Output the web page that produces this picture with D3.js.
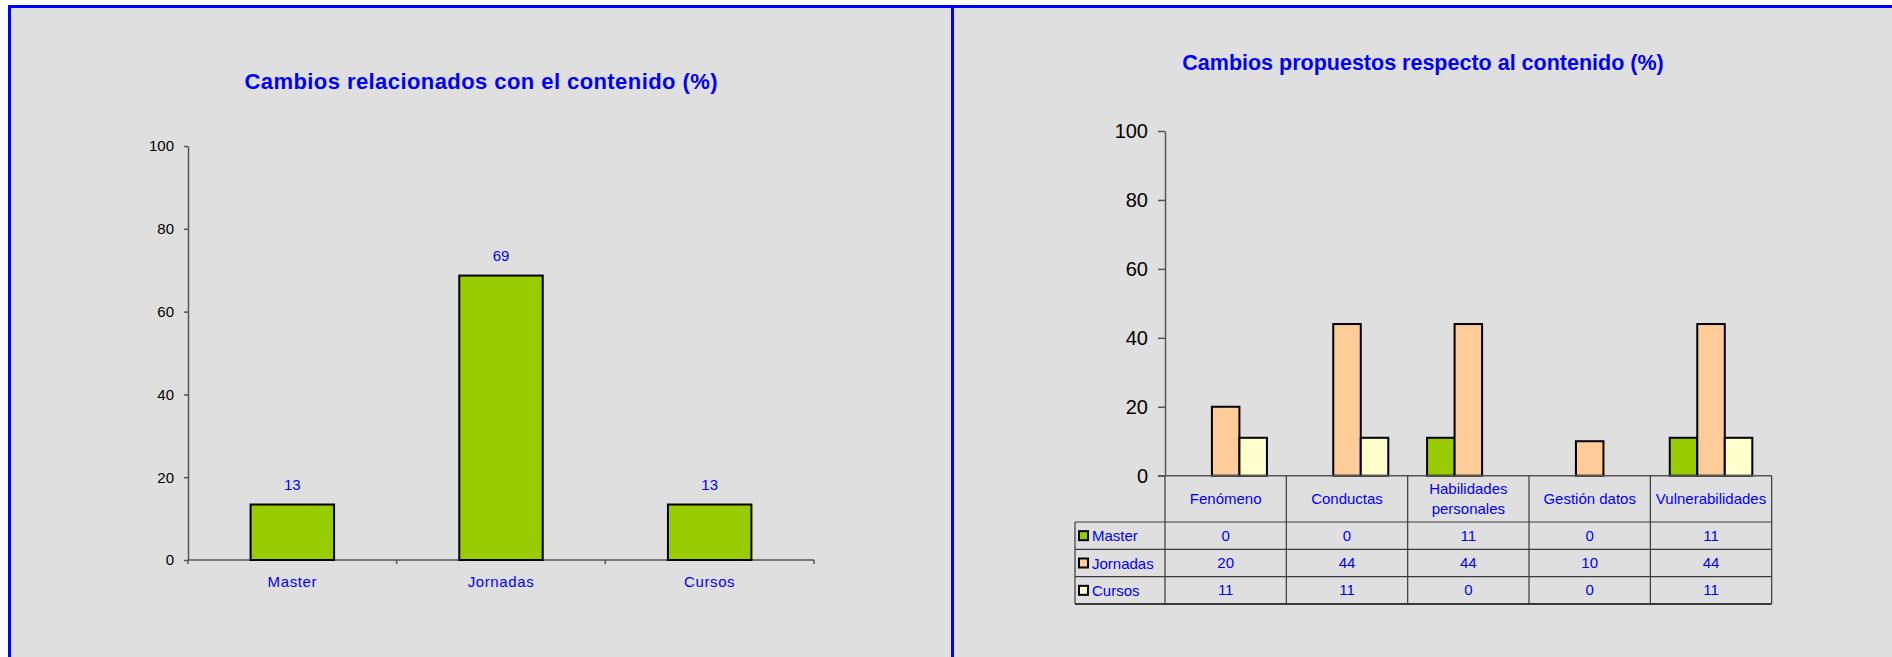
<!DOCTYPE html>
<html><head><meta charset="utf-8">
<script src="https://cdn.jsdelivr.net/npm/d3@7"></script>
<style>
body{margin:0;background:#fff;}
svg{display:block;}
text{font-family:"Liberation Sans",Arial,Helvetica,sans-serif;}
</style>
</head><body>
<svg id="c" width="1892" height="657"></svg>
<script>
// ---------- data ----------
const leftTitle = "Cambios relacionados con el contenido (%)";
const rightTitle = "Cambios propuestos respecto al contenido (%)";
const leftCategories = ["Master", "Jornadas", "Cursos"];
const leftValues = [13.4, 68.7, 13.4];
const yTickValues = [0, 20, 40, 60, 80, 100];
const rightCategories = ["Fenómeno", "Conductas", "Habilidades personales", "Gestión datos", "Vulnerabilidades"];
const seriesNames = ["Master", "Jornadas", "Cursos"];
const masterValues = [0, 0, 11, 0, 11];
const jornadasValues = [20, 44, 44, 10, 44];
const cursosValues = [11, 11, 0, 0, 11];
const seriesColors = ["#99CC00", "#FFCC99", "#FFFFCC"];

const rightSeries = [masterValues, jornadasValues, cursosValues];
const BLUE = "#0000FF";
const fmt = d3.format(".0f");

const svg = d3.select("#c");

// ---------- background & frames ----------
svg.append("rect").attr("x", 8).attr("y", 5).attr("width", 1884).attr("height", 652).attr("fill", "#DFDFDF");
svg.append("rect").attr("x", 8).attr("y", 5).attr("width", 1884).attr("height", 3).attr("fill", BLUE);
svg.append("rect").attr("x", 8).attr("y", 5).attr("width", 3).attr("height", 652).attr("fill", BLUE);
svg.append("rect").attr("x", 951).attr("y", 5).attr("width", 3).attr("height", 652).attr("fill", BLUE);

// ---------- left chart ----------
const L = svg.append("g");
L.append("text").attr("x", 481).attr("y", 89).attr("text-anchor", "middle")
  .attr("font-size", 22).attr("font-weight", "bold").attr("fill", BLUE)
  .attr("textLength", 473).attr("lengthAdjust", "spacing")
  .text(leftTitle);

const xL = d3.scaleBand().domain(leftCategories).range([188, 814]).paddingInner(0.6).paddingOuter(0.3);
const yL = d3.scaleLinear().domain([0, 100]).range([560, 146]);

const yAxisL = L.append("g").attr("transform", "translate(188,0)")
  .call(d3.axisLeft(yL).tickValues(yTickValues).tickSize(4).tickSizeOuter(0).tickPadding(10));
yAxisL.select(".domain").attr("stroke", "#555").attr("stroke-width", 1.5);
yAxisL.selectAll(".tick line").attr("stroke", "#555").attr("stroke-width", 1.5);
yAxisL.selectAll(".tick text").attr("font-size", 15).attr("fill", "#000")
  .attr("font-family", "'Liberation Sans',Arial,sans-serif");

// x axis line and boundary ticks
const xRangeL = xL.range();
L.append("line").attr("x1", xRangeL[0]).attr("x2", xRangeL[1]).attr("y1", yL(0)).attr("y2", yL(0))
  .attr("stroke", "#555").attr("stroke-width", 1.5);
const boundsL = leftCategories.map(c => xL(c) - (xL.step() - xL.bandwidth()) / 2).concat([xRangeL[1]]);
L.selectAll(".xtickL").data(boundsL).join("line")
  .attr("x1", d => d).attr("x2", d => d).attr("y1", yL(0)).attr("y2", yL(0) + 4)
  .attr("stroke", "#555").attr("stroke-width", 1.5);

L.selectAll(".barL").data(leftValues).join("rect")
  .attr("x", (d, i) => xL(leftCategories[i]))
  .attr("y", d => yL(d))
  .attr("width", xL.bandwidth())
  .attr("height", d => yL(0) - yL(d))
  .attr("fill", seriesColors[0]).attr("stroke", "#000").attr("stroke-width", 2);

L.selectAll(".lblL").data(leftValues).join("text")
  .attr("x", (d, i) => xL(leftCategories[i]) + xL.bandwidth() / 2)
  .attr("y", d => yL(d) - 15)
  .attr("text-anchor", "middle").attr("font-size", 15).attr("fill", BLUE)
  .text(d => fmt(d));

L.selectAll(".catL").data(leftCategories).join("text")
  .attr("x", d => xL(d) + xL.bandwidth() / 2)
  .attr("y", 587)
  .attr("text-anchor", "middle").attr("font-size", 15).attr("fill", BLUE)
  .attr("letter-spacing", 0.6)
  .text(d => d);

// ---------- right chart ----------
const R = svg.append("g");
R.append("text").attr("x", 1423).attr("y", 70).attr("text-anchor", "middle")
  .attr("font-size", 21.5).attr("font-weight", "bold").attr("fill", BLUE)
  .text(rightTitle);

const x0 = d3.scaleBand().domain(rightCategories).range([1165, 1771.7]);
const x1 = d3.scaleBand().domain(seriesNames).range([0, x0.bandwidth()]).paddingInner(0).paddingOuter(0.705);
const yR = d3.scaleLinear().domain([0, 100]).range([475.7, 131]);
const rowY = d3.scaleBand().domain(seriesNames).range([522, 604]);
const legendLeft = 1075;

const yAxisR = R.append("g").attr("transform", "translate(1165,0)")
  .call(d3.axisLeft(yR).tickValues(yTickValues).tickSize(7).tickSizeOuter(0).tickPadding(10));
yAxisR.select(".domain").attr("stroke", "#555").attr("stroke-width", 1.5);
yAxisR.selectAll(".tick line").attr("stroke", "#555").attr("stroke-width", 1.5);
yAxisR.selectAll(".tick text").attr("font-size", 20).attr("fill", "#000")
  .attr("font-family", "'Liberation Sans',Arial,sans-serif");

// bars
const barData = [];
rightCategories.forEach((c, i) => {
  seriesNames.forEach((s, j) => {
    const v = rightSeries[j][i];
    if (v > 0) barData.push({ c, s, v, color: seriesColors[j] });
  });
});
R.selectAll(".barR").data(barData).join("rect")
  .attr("x", d => x0(d.c) + x1(d.s))
  .attr("y", d => yR(d.v))
  .attr("width", x1.bandwidth())
  .attr("height", d => yR(0) - yR(d.v))
  .attr("fill", d => d.color).attr("stroke", "#000").attr("stroke-width", 2);

// data table grid
const gridColor = "#3a3a3a";
const tableBottom = rowY.range()[1];
const tableRight = x0.range()[1];
R.append("line").attr("x1", 1158).attr("x2", tableRight).attr("y1", yR(0)).attr("y2", yR(0))
  .attr("stroke", "#555").attr("stroke-width", 1.5);
const hLines = seriesNames.map(s => rowY(s)).concat([tableBottom]);
R.selectAll(".hl").data(hLines).join("line")
  .attr("x1", legendLeft).attr("x2", tableRight).attr("y1", d => d).attr("y2", d => d)
  .attr("stroke", gridColor).attr("stroke-width", (d, i) => i === hLines.length - 1 ? 2 : 1.2);
const vLines = rightCategories.map(c => x0(c)).concat([tableRight]);
R.selectAll(".vl").data(vLines).join("line")
  .attr("x1", d => d).attr("x2", d => d).attr("y1", yR(0)).attr("y2", tableBottom)
  .attr("stroke", gridColor).attr("stroke-width", 1.2);
R.append("line").attr("x1", legendLeft).attr("x2", legendLeft).attr("y1", rowY.range()[0]).attr("y2", tableBottom)
  .attr("stroke", gridColor).attr("stroke-width", 1.2);

// header labels (wrapped when wider than column)
const headerCenterY = (yR(0) + rowY.range()[0]) / 2;
rightCategories.forEach(c => {
  const cx = x0(c) + x0.bandwidth() / 2;
  const t = R.append("text").attr("x", cx).attr("text-anchor", "middle")
    .attr("font-size", 15).attr("fill", BLUE).text(c);
  if (t.node().getComputedTextLength() > x0.bandwidth() - 6 && c.includes(" ")) {
    const words = c.split(" ");
    t.text(null);
    const lh = 20;
    words.forEach((w, k) => {
      t.append("tspan").attr("x", cx)
        .attr("y", headerCenterY + 5 + (k - (words.length - 1) / 2) * lh)
        .text(w);
    });
  } else {
    t.attr("y", headerCenterY + 5);
  }
});

// legend keys + names + values
seriesNames.forEach((s, j) => {
  const cy = rowY(s) + rowY.bandwidth() / 2;
  R.append("rect").attr("x", legendLeft + 4).attr("y", cy - 4.5).attr("width", 9).attr("height", 9)
    .attr("fill", seriesColors[j]).attr("stroke", "#000").attr("stroke-width", 2);
  R.append("text").attr("x", legendLeft + 17).attr("y", cy + 5.5)
    .attr("font-size", 15).attr("fill", BLUE).text(s);
  rightCategories.forEach((c, i) => {
    R.append("text").attr("x", x0(c) + x0.bandwidth() / 2).attr("y", cy + 5)
      .attr("text-anchor", "middle").attr("font-size", 15).attr("fill", BLUE)
      .text(fmt(rightSeries[j][i]));
  });
});
</script>
</body></html>
